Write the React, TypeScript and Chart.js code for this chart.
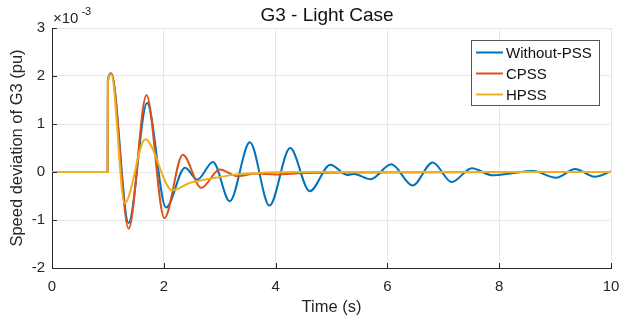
import React, { useEffect, useRef } from 'react';
import { Chart, registerables } from 'chart.js';

Chart.register(...registerables);

const FONT = '"Liberation Sans", Arial, Helvetica, sans-serif';

const chartTitle = 'G3 - Light Case';
const xAxisTitle = 'Time (s)';
const yAxisTitle = 'Speed deviation of G3 (pu)';
const seriesNames = ['Without-PSS', 'CPSS', 'HPSS'];
const seriesColors = ['#0072BD', '#D95319', '#EDB120'];

const xTicks = [0, 2, 4, 6, 8, 10];
const yTicks = [-2, -1, 0, 1, 2, 3];

// values in units of 1e-3 pu
const tWithout = [0, 0.995, 1.0, 1.06, 1.37, 1.70, 2.04, 2.38, 2.60, 2.88, 3.18, 3.54, 3.89, 4.26, 4.61, 4.98, 5.28, 5.40, 5.70, 6.07, 6.45, 6.81, 7.15, 7.51, 7.88, 8.2, 8.6, 9.02, 9.36, 9.71, 10];
const yWithout = [0, 0, 1.9, 2.05, -1.06, 1.44, -0.74, 0.09, -0.16, 0.21, -0.61, 0.62, -0.70, 0.50, -0.40, 0.15, -0.06, -0.04, -0.15, 0.16, -0.28, 0.20, -0.21, 0.08, -0.07, -0.03, 0.02, -0.12, 0.06, -0.10, 0.01];

const tCpss = [0, 0.995, 1.0, 1.06, 1.37, 1.69, 2.01, 2.34, 2.67, 3.0, 3.32, 3.65, 4.0, 4.5, 5.5, 10];
const yCpss = [0, 0, 1.9, 2.05, -1.18, 1.60, -0.96, 0.36, -0.33, 0.05, -0.09, -0.03, -0.05, -0.02, -0.01, 0];

const tHpss = [0, 0.995, 1.0, 1.06, 1.30, 1.67, 2.15, 2.46, 2.88, 3.24, 3.66, 4.5, 10];
const yHpss = [0, 0, 1.9, 2.03, -0.65, 0.68, -0.38, -0.23, -0.13, -0.06, -0.02, 0.0, 0.0];

const toPoints = (t: number[], y: number[]) => t.map((x, i) => ({ x, y: y[i] }));

const decor = {
  id: 'decor',
  afterDraw(chart: any) {
    const { ctx, chartArea, scales } = chart;
    const xs = scales.x;
    const ys = scales.y;
    ctx.save();
    // inward tick marks
    ctx.strokeStyle = '#262626';
    ctx.lineWidth = 1;
    ctx.beginPath();
    xTicks.forEach((v) => {
      const px = Math.round(xs.getPixelForValue(v)) + 0.5;
      ctx.moveTo(px, chartArea.bottom);
      ctx.lineTo(px, chartArea.bottom - 5);
    });
    yTicks.forEach((v) => {
      const py = Math.round(ys.getPixelForValue(v)) + 0.5;
      ctx.moveTo(chartArea.left, py);
      ctx.lineTo(chartArea.left + 5, py);
    });
    ctx.stroke();

    // title
    ctx.fillStyle = '#111';
    ctx.font = `19px ${FONT}`;
    ctx.textAlign = 'center';
    ctx.textBaseline = 'alphabetic';
    ctx.fillText(chartTitle, 327, 21);

    // exponent
    ctx.fillStyle = '#262626';
    ctx.textAlign = 'left';
    ctx.font = `15px ${FONT}`;
    ctx.fillText('\u00d710', 53, 23);
    const w = ctx.measureText('\u00d710').width;
    ctx.font = `11px ${FONT}`;
    ctx.fillText('-3', 53 + w + 3, 15);

    // legend
    const lx = 471.5, ly = 40.5, lw = 128, lh = 65;
    ctx.fillStyle = '#fff';
    ctx.fillRect(lx, ly, lw, lh);
    ctx.strokeStyle = '#555';
    ctx.lineWidth = 1;
    ctx.strokeRect(lx, ly, lw, lh);
    ctx.font = `15px ${FONT}`;
    ctx.textBaseline = 'middle';
    seriesNames.forEach((name, i) => {
      const yy = 52.5 + i * 21;
      ctx.strokeStyle = seriesColors[i];
      ctx.lineWidth = 2;
      ctx.beginPath();
      ctx.moveTo(476, yy);
      ctx.lineTo(503, yy);
      ctx.stroke();
      ctx.fillStyle = '#111';
      ctx.fillText(name, 506, yy + 1);
    });
    ctx.restore();
  },
};

export default function App() {
  const ref = useRef<HTMLCanvasElement>(null);
  useEffect(() => {
    const series = [
      { t: tWithout, y: yWithout, order: 3 },
      { t: tCpss, y: yCpss, order: 2 },
      { t: tHpss, y: yHpss, order: 1 },
    ];
    const chart = new Chart(ref.current as HTMLCanvasElement, {
      type: 'line',
      data: {
        datasets: series.map((s, i) => ({
          label: seriesNames[i],
          data: toPoints(s.t, s.y),
          borderColor: seriesColors[i],
          backgroundColor: seriesColors[i],
          borderWidth: 2,
          pointRadius: 0,
          cubicInterpolationMode: 'monotone' as const,
          fill: false,
          order: s.order,
        })),
      },
      options: {
        animation: false,
        responsive: false,
        maintainAspectRatio: false,
        layout: { padding: { top: 28, right: 24, left: 0, bottom: 0 } },
        plugins: {
          legend: { display: false },
          title: { display: false },
          tooltip: { enabled: false },
        },
        scales: {
          x: {
            type: 'linear',
            min: 0,
            max: 10,
            afterFit: (scale: any) => { scale.height = 54; },
            afterBuildTicks: (scale: any) => { scale.ticks = xTicks.map((v) => ({ value: v })); },
            ticks: { color: '#262626', font: { size: 15, family: FONT }, padding: 10, maxRotation: 0 },
            grid: { color: '#e6e6e6', drawTicks: false },
            border: { display: true, color: '#262626', width: 1 },
            title: { display: true, text: xAxisTitle, color: '#262626', font: { size: 16.5, family: FONT }, padding: { top: 0, bottom: 5 } },
          },
          y: {
            type: 'linear',
            min: -2,
            max: 3,
            afterFit: (scale: any) => { scale.width = 52; },
            afterBuildTicks: (scale: any) => { scale.ticks = yTicks.map((v) => ({ value: v })); },
            ticks: { color: '#262626', font: { size: 15, family: FONT }, padding: 7 },
            grid: { color: '#e6e6e6', drawTicks: false },
            border: { display: true, color: '#262626', width: 1 },
            title: { display: true, text: yAxisTitle, color: '#262626', font: { size: 16.5, family: FONT }, padding: { top: 8, bottom: 0 } },
          },
        },
      },
      plugins: [decor],
    });
    return () => chart.destroy();
  }, []);
  return (
    <div style={{ position: 'fixed', left: 0, top: 0, width: 635, height: 322, background: '#fff' }}>
      <canvas ref={ref} width={635} height={322} style={{ display: 'block' }} />
    </div>
  );
}
